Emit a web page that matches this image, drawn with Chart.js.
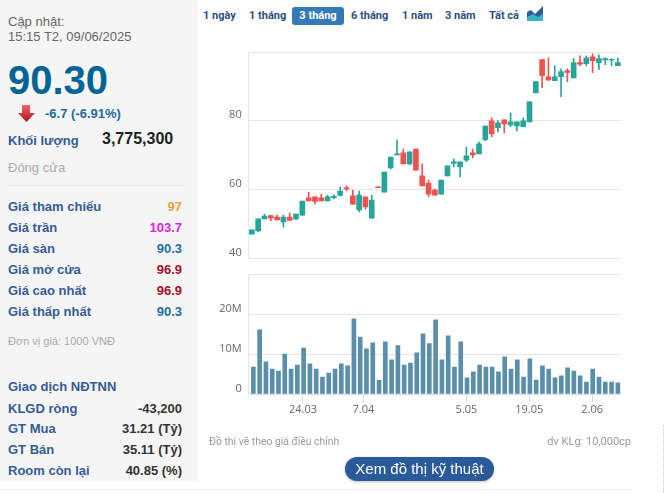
<!DOCTYPE html>
<html lang="vi">
<head>
<meta charset="utf-8">
<title>Đồ thị giá</title>
<script src="https://cdn.jsdelivr.net/npm/chart.js@4"></script>
<style>
  html, body { margin: 0; padding: 0; background: #fff; }
  body { width: 667px; height: 493px; position: relative; overflow: hidden; font-family: "Liberation Sans", Arial, sans-serif; }
  .abs { position: absolute; white-space: nowrap; }
  #side { position: absolute; left: 0; top: 0; width: 198px; height: 481px; background: #f5f5f5; }
  .row { position: absolute; left: 8px; width: 174px; height: 18px; line-height: 18px; font-size: 13px; font-weight: bold; color: #355c94; }
  .row b { position: absolute; right: 0; top: 0; }
  .tab { position: absolute; top: 7px; height: 18px; line-height: 17px; font: bold 11px/17px Roboto, sans-serif; color: #2c4f80; white-space: nowrap; }
  canvas { position: absolute; }
</style>
</head>
<body>
<div id="side"></div>
<div class="abs" style="left:8px;top:14px;font-size:13px;color:#666;line-height:15px">Cập nhật:<br>15:15 T2, 09/06/2025</div>
<div class="abs" style="left:8px;top:57px;font-size:40px;font-weight:bold;color:#006596;line-height:46px">90.30</div>
<svg class="abs" style="left:18px;top:105px" width="17" height="17"><defs><linearGradient id="arrow" x1="0" y1="0" x2="0" y2="1"><stop offset="0" stop-color="#f0666a"/><stop offset="1" stop-color="#b5121b"/></linearGradient></defs><path d="M4 0H12V8H17L8.500 17L0 8H4Z" fill="url(#arrow)"/></svg>
<div class="abs" style="left:45px;top:106px;font-size:13px;font-weight:bold;color:#24699b;line-height:16px">-6.7 (-6.91%)</div>
<div class="abs" style="left:8px;top:132px;font-size:13px;font-weight:bold;color:#355c94;line-height:18px">Khối lượng</div>
<div class="abs" style="left:102px;top:130px;font-size:16px;font-weight:bold;color:#222;line-height:18px">3,775,300</div>
<div class="abs" style="left:8px;top:159px;font-size:13px;color:#aaa;line-height:18px">Đóng cửa</div>
<div class="abs" style="left:8px;top:185px;width:176px;height:1px;background:#e8e8e8"></div>

<div class="row" style="top:198px">Giá tham chiếu<b style="color:#f0a13c">97</b></div>
<div class="row" style="top:219px">Giá trần<b style="color:#e41ed8">103.7</b></div>
<div class="row" style="top:240px">Giá sàn<b style="color:#1f6f9f">90.3</b></div>
<div class="row" style="top:261px">Giá mở cửa<b style="color:#a50f2a">96.9</b></div>
<div class="row" style="top:282px">Giá cao nhất<b style="color:#a50f2a">96.9</b></div>
<div class="row" style="top:303px">Giá thấp nhất<b style="color:#1f6f9f">90.3</b></div>
<div class="abs" style="left:8px;top:333px;font-size:11px;color:#aaa;line-height:16px">Đơn vị giá: 1000 VNĐ</div>

<div class="row" style="top:378px">Giao dịch NĐTNN</div>
<div class="row" style="top:400px">KLGD ròng<b style="color:#333">-43,200</b></div>
<div class="row" style="top:420px">GT Mua<b style="color:#333">31.21 (Tỷ)</b></div>
<div class="row" style="top:441px">GT Bán<b style="color:#333">35.11 (Tỷ)</b></div>
<div class="row" style="top:462px">Room còn lại<b style="color:#333">40.85 (%)</b></div>

<div class="tab" style="left:203px">1 ngày</div>
<div class="tab" style="left:249px">1 tháng</div>
<div class="tab" style="left:292px;width:52px;text-align:center;background:#337ab7;color:#fff;border-radius:3px">3 tháng</div>
<div class="tab" style="left:351px">6 tháng</div>
<div class="tab" style="left:402px">1 năm</div>
<div class="tab" style="left:445px">3 năm</div>
<div class="tab" style="left:489px">Tất cả</div>
<svg class="abs" style="left:527px;top:6px" width="16" height="15"><path d="M0 6L4 4L8 8L16 0V11H0Z" fill="#2b5d9e"/><path d="M0 11L6 8L11 11L16 8V15H0Z" fill="#35b4c8"/></svg>

<canvas id="priceChart" width="440" height="225" style="left:200px;top:45px"></canvas>
<canvas id="volumeChart" width="440" height="165" style="left:200px;top:265px"></canvas>

<div class="abs" style="left:209px;top:435px;font:10.400px/14px Roboto, sans-serif;color:#999">Đồ thị vẽ theo giá điều chỉnh</div>
<div class="abs" style="right:36px;top:435px;font:11px/14px Roboto, sans-serif;color:#999">dv KLg: 10,000cp</div>
<div class="abs" style="left:345px;top:457px;width:149px;height:24px;border-radius:12px;background:#2a5a9a;color:#fff;text-align:center;font-size:15px;line-height:24px;box-shadow:0 1px 3px rgba(0,0,0,.25)">Xem đồ thị kỹ thuật</div>
<div class="abs" style="left:0;top:489px;width:632px;height:1px;background:#eee"></div>
<div class="abs" style="left:663px;top:425px;height:68px;border-left:1px dotted #ccc"></div>

<script>
// gia moi phien (59 phien, tu trai sang phai)
const opens = [
  47.1,48.0,51.5,52.5,52.0,50.6,52.0,51.5,52.6,57.6,
  57.9,57.6,56.7,57.7,58.3,60.5,58.2,54.1,57.9,51.7,
  60.8,59.3,66.3,70.1,70.7,67.5,71.8,64.0,61.9,59.9,
  58.7,64.0,67.6,66.6,68.6,70.7,70.4,74.5,80.0,78.0,
  80.3,78.8,78.5,78.3,79.7,88.2,97.8,92.8,91.7,92.8,
  94.6,92.5,96.9,96.6,98.6,96.9,97.7,97.7,96.0
];
const highs = [
  48.3,51.5,52.9,52.5,52.6,52.6,53.2,52.9,56.7,59.3,
  57.9,58.7,58.4,58.5,60.8,61.1,59.9,59.6,57.9,58.4,
  60.8,65.1,69.5,74.5,71.8,71.0,71.8,67.5,62.8,60.2,
  62.8,66.9,68.9,68.1,72.4,71.8,73.9,78.5,80.9,80.1,
  80.3,82.3,79.7,80.9,85.5,91.4,97.8,98.3,96.0,95.1,
  95.1,98.1,98.9,98.9,99.5,99.2,98.3,98.1,98.3
];
const lows = [
  47.1,47.7,51.5,51.0,51.2,49.1,51.0,51.3,52.6,56.7,
  55.8,56.7,56.7,57.3,58.2,59.6,55.8,53.5,54.4,51.7,
  60.6,59.3,66.0,70.1,67.5,67.2,65.7,61.1,57.9,58.4,
  58.7,64.0,66.6,63.7,68.1,69.2,70.4,74.2,75.3,76.8,
  76.5,78.3,77.1,78.3,79.7,88.2,89.6,91.7,91.7,87.0,
  91.4,92.5,96.0,96.0,94.0,94.9,96.3,96.0,96.0
];
const closes = [
  48.3,51.5,52.3,51.7,51.2,52.0,51.1,52.9,56.7,56.7,
  56.6,56.7,57.9,58.1,59.6,60.2,55.8,58.4,55.0,57.0,
  60.6,65.1,69.5,70.4,67.5,71.0,65.7,61.1,58.7,58.4,
  62.8,66.9,68.1,68.1,69.8,70.1,73.3,78.5,76.2,79.4,
  79.1,79.7,79.7,80.0,85.5,91.4,93.1,91.9,92.8,94.3,
  94.1,96.9,96.5,98.3,97.5,98.1,98.1,97.9,96.9
];
// khoi luong, trieu co phieu
const volumes = [
  6.8,16.2,8.1,6.3,5.8,10.1,6.3,7.3,11.6,7.6,
  6.3,4.3,5.3,6.3,7.6,7.1,19.0,14.4,11.4,12.9,
  3.5,13.2,8.6,12.2,7.3,7.8,10.4,15.2,12.7,18.7,
  8.6,14.7,6.8,13.2,4.1,5.6,7.3,6.8,6.8,5.6,
  9.4,6.3,8.6,4.3,8.9,3.5,7.1,6.3,4.1,4.6,
  6.6,5.8,4.6,3.0,6.3,4.3,3.0,3.0,2.8
];
// 7.04 la ngay nghi nen vach nam giua hai phien
const dateTicks = [7.9,17.5,33.9,43.9,53.9];
const dateTickLabels = ["24.03","7.04","5.05","19.05","2.06"];
const priceTicks = [40,60,80,100];
const priceTickLabels = ["40","60","80",""];
const volumeTicks = [0,10,20,30.3];
const volumeTickLabels = ["0","10M","20M",""];

const UP = "#26a69a", DOWN = "#ef5350", GRID = "#e6e6e6";
const colors = closes.map((c, i) => c >= opens[i] ? UP : DOWN);
const tickFont = { family: "'Open Sans', sans-serif", size: 11 };

// truc y dung chung cho hai do thi
function yAxis(values, labels, min, max) {
  return {
    min, max,
    grid: { color: GRID, drawTicks: false },
    border: { display: true, color: GRID },
    afterFit: s => { s.width = 48.7; s.paddingTop = 0; s.paddingBottom = 0; },
    afterBuildTicks: s => { s.ticks = values.map(value => ({ value })); },
    ticks: {
      color: "#666", font: tickFont, padding: 7, labelOffset: -5.5,
      callback: v => labels[values.indexOf(v)]
    }
  };
}

const common = {
  responsive: false,
  animation: false,
  plugins: { legend: { display: false }, tooltip: { enabled: false } }
};

// nen: than va rau deu la thanh noi
new Chart(document.getElementById("priceChart"), {
  type: "bar",
  data: {
    labels: opens.map((o, i) => i),
    datasets: [
      { data: opens.map((o, i) => [o, closes[i]]), backgroundColor: colors, barThickness: 5, grouped: false },
      { data: opens.map((o, i) => [lows[i], highs[i]]), backgroundColor: colors, barThickness: 1, grouped: false }
    ]
  },
  options: {
    ...common,
    layout: { autoPadding: false, padding: { top: 7, right: 19, bottom: 11.5 } },
    scales: {
      x: { display: false, grid: { display: false } },
      y: yAxis(priceTicks, priceTickLabels, 40, 100)
    }
  }
});

new Chart(document.getElementById("volumeChart"), {
  type: "bar",
  data: {
    datasets: [{
      data: volumes.map((y, x) => ({ x, y })),
      backgroundColor: "#5a8fab",
      barThickness: 4
    }]
  },
  options: {
    ...common,
    layout: { autoPadding: false, padding: { top: 9, right: 19 } },
    scales: {
      x: {
        type: "linear",
        min: -0.74,
        max: 58.5,
        offset: false,
        grid: { offset: false, drawOnChartArea: false, color: "#d5dce8", tickLength: 8 },
        border: { color: "#d5dce8" },
        afterFit: s => { s.height = 36; },
        afterBuildTicks: s => { s.ticks = dateTicks.map(value => ({ value })); },
        ticks: {
          color: "#666", font: tickFont, padding: 1, autoSkip: false, maxRotation: 0,
          callback: v => dateTickLabels[dateTicks.indexOf(v)]
        }
      },
      y: yAxis(volumeTicks, volumeTickLabels, 0, 30.3)
    }
  }
});
</script>
</body>
</html>
